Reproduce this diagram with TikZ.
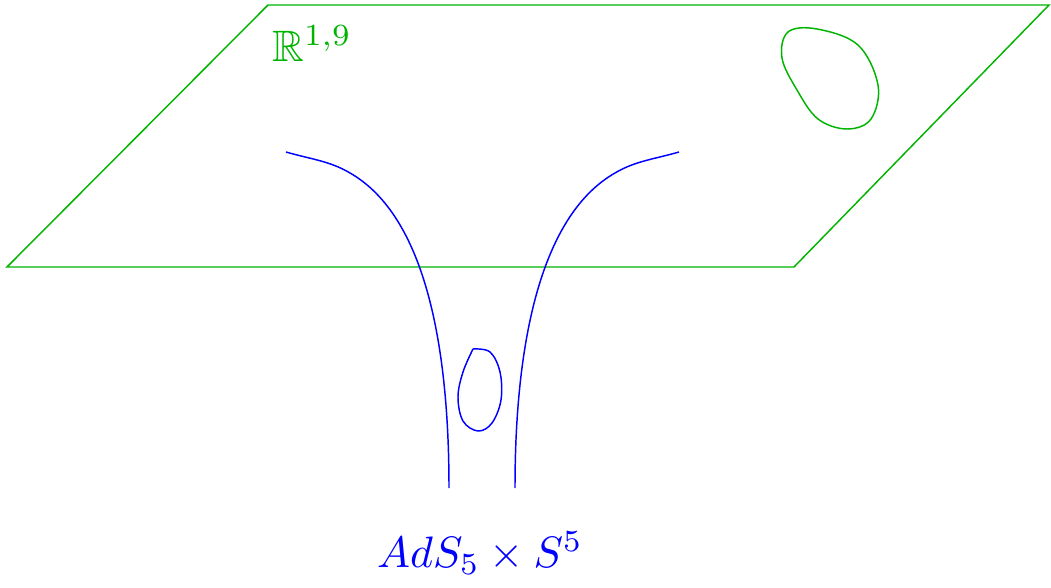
\documentclass[tikz,border=0pt]{standalone}
\usepackage{amssymb}
\definecolor{plane}{RGB}{0,180,0}
\definecolor{ads}{RGB}{0,0,255}
\begin{document}
\begin{tikzpicture}[x=0.75pt,y=-0.75pt,
  planeline/.style={draw=plane,line width=1.1pt,line join=miter},
  adsline/.style={draw=ads,line width=1.1pt},
  lbl/.style={inner sep=0pt,scale=3.3}]
\useasboundingbox (0,0) rectangle (1051,588);
% plane
\coordinate (p1) at (268,5);
\coordinate (p2) at (1049,5);
\coordinate (p3) at (794,267);
\coordinate (p4) at (7,267);
\draw[planeline] (p1) -- (p2) -- (p3) -- (p4) -- cycle;
\node[lbl,text=plane] (rlab) at (312,44) {$\mathbb{R}^{1,9}$};
% green loop
\draw[planeline] plot[smooth cycle,tension=0.6] coordinates {
 (788,32) (817,29) (858,45) (878,85) (871,119) (847,129) (818,119) (797,90) (782,58)};
% throat
\coordinate (l0) at (286,152);
\coordinate (l1) at (350,173);
\coordinate (l2) at (449,488);
\coordinate (r0) at (679,152);
\coordinate (r1) at (615,173);
\coordinate (r2) at (515,488);
\draw[adsline] (l0) .. controls (310,159) and (330,161) .. (l1)
  .. controls (420,213) and (449,330) .. (l2);
\draw[adsline] (r0) .. controls (655,159) and (635,161) .. (r1)
  .. controls (545,213) and (515,330) .. (r2);
% blue loop
\draw[adsline] plot[smooth,tension=0.6] coordinates {
 (473,349) (490,352) (500,372) (501,400) (492,423) (478,431) (463,421) (458,397) (463,372) (473,349)};
\node[lbl,text=ads] (alab) at (480,553) {$AdS_5\times S^5$};
\end{tikzpicture}
\end{document}
